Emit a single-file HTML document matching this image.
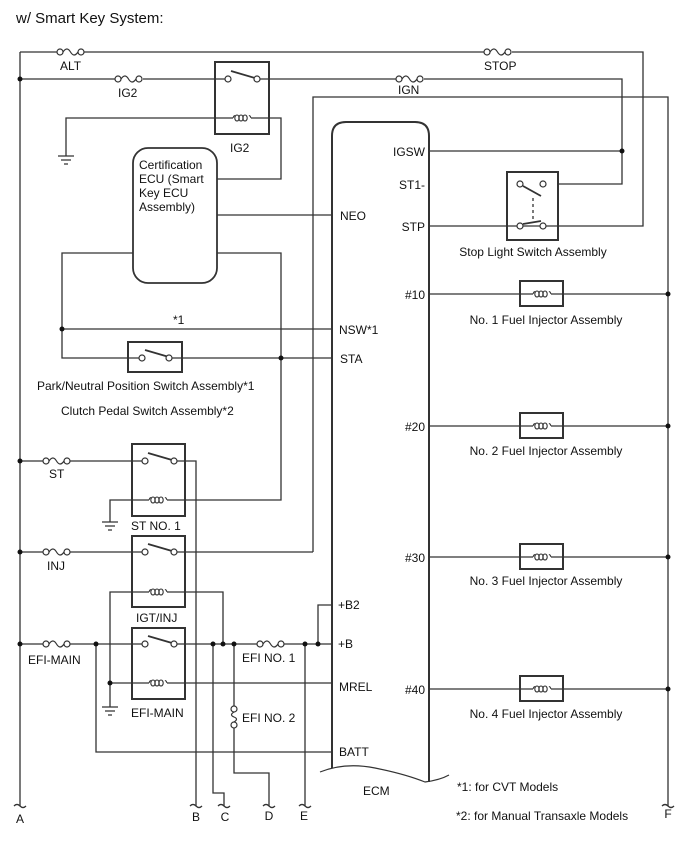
<!DOCTYPE html>
<html><head><meta charset="utf-8"><style>
html,body{margin:0;padding:0;background:#fff}
svg{display:block}
text{font-family:"Liberation Sans",Arial,sans-serif;font-size:12px;fill:#111}
</style></head><body>
<svg width="688" height="852" viewBox="0 0 688 852" xmlns="http://www.w3.org/2000/svg">
<text x="16" y="23" style="font-size:15px">w/ Smart Key System:</text>
<g fill="none" stroke="#333" stroke-width="1.3">
<path d="M20 52V806"/>
<path d="M20 52H57M84 52H484M512 52H643V226H429"/>
<path d="M20 79H115M143 79H228M257 79H396M424 79H622V184H558"/>
<path d="M429 151H622"/>
<path d="M313 552V97H668V806"/>
<path d="M66 156V118H233M251 118H281V179H217"/>
<path d="M217 215H332"/>
<path d="M133 253H62V358H142M169 358H332"/>
<path d="M217 253H281V500H167M149 500H110V522"/>
<path d="M62 329H332"/>
<path d="M20 461H43M69 461H145M174 461H196V806"/>
<path d="M20 552H43M69 552H145M174 552H313"/>
<path d="M110 707V592H149M167 592H223V644"/>
<path d="M20 644H43M69 644H145M174 644H257M283 644H332"/>
<path d="M318 644V605H332"/>
<path d="M110 683H149M167 683H332"/>
<path d="M96 644V752H332"/>
<path d="M213 644V793H224V806"/>
<path d="M234 644V706M234 728V773H269V806"/>
<path d="M305 644V806"/>
<path d="M332 768V136Q332 122 346 122H415Q429 122 429 136V782" stroke-width="2"/>
<path d="M320 772Q345 762 375 768T425 782Q440 780 449 775" stroke-width="1.2"/>
<rect x="133" y="148" width="84" height="135" rx="15" stroke-width="1.8"/>
<rect x="215" y="62" width="54" height="72" stroke-width="2"/>
<rect x="132" y="444" width="53" height="72" stroke-width="2"/>
<rect x="132" y="536" width="53" height="71" stroke-width="2"/>
<rect x="132" y="628" width="53" height="71" stroke-width="2"/>
<rect x="128" y="342" width="54" height="30" stroke-width="2"/>
<rect x="507" y="172" width="51" height="68" stroke-width="2"/>
<path d="M429 294H533M551 294H668M429 426H533M551 426H668M429 557H533M551 557H668M429 689H533M551 689H668"/>
<rect x="520" y="281" width="43" height="25" stroke-width="2"/>
<rect x="520" y="413" width="43" height="25" stroke-width="2"/>
<rect x="520" y="544" width="43" height="25" stroke-width="2"/>
<rect x="520" y="676" width="43" height="25" stroke-width="2"/>
<path d="M231 71L255 78M148 453L172 460M148 544L172 551M148 636L172 643M145 350L169 357" stroke-width="1.8"/>
<path d="M523 186L541 196M523 224L541 221" stroke-width="1.8"/>
<path d="M533 198V220" stroke-dasharray="3,3"/>
<path d="M58 156H74M61 160H71M64 164H68M102 522H118M105 526H115M108 530H112M102 707H118M105 711H115M108 715H112"/>
<path d="M14 806q3-3 6 0t6 0M190 806q3-3 6 0t6 0M218 806q3-3 6 0t6 0M263 806q3-3 6 0t6 0M299 806q3-3 6 0t6 0M662 806q3-3 6 0t6 0"/>
</g>
<g fill="#fff" stroke="#333" stroke-width="1.2">
<g id="fz"><circle cx="60" cy="52" r="3"/><circle cx="81" cy="52" r="3"/><path d="M63 52Q67 46 70.5 52T78 52" fill="none"/></g>
<use href="#fz" x="58" y="27"/>
<use href="#fz" x="427" y="0"/>
<use href="#fz" x="339" y="27"/>
<use href="#fz" x="-14" y="409"/>
<use href="#fz" x="-14" y="500"/>
<use href="#fz" x="-14" y="592"/>
<use href="#fz" x="200" y="592"/>
<circle cx="234" cy="709" r="3"/><circle cx="234" cy="725" r="3"/><path d="M234 712Q229 715 234 717T234 722" fill="none"/>
<circle cx="228" cy="79" r="3"/><circle cx="257" cy="79" r="3"/>
<circle cx="145" cy="461" r="3"/><circle cx="174" cy="461" r="3"/>
<circle cx="145" cy="552" r="3"/><circle cx="174" cy="552" r="3"/>
<circle cx="145" cy="644" r="3"/><circle cx="174" cy="644" r="3"/>
<circle cx="142" cy="358" r="3"/><circle cx="169" cy="358" r="3"/>
<circle cx="520" cy="184" r="3"/><circle cx="543" cy="184" r="3"/>
<circle cx="520" cy="226" r="3"/><circle cx="543" cy="226" r="3"/>
</g>
<g fill="none" stroke="#333" stroke-width="1.1">
<g id="cl"><ellipse cx="237" cy="118" rx="2.2" ry="3"/><ellipse cx="241" cy="118" rx="2.2" ry="3"/><ellipse cx="245" cy="118" rx="2.2" ry="3"/><path d="M233 118Q234 115 235 116M249 116Q250 115 251 118"/></g>
<use href="#cl" x="-84" y="382"/>
<use href="#cl" x="-84" y="474"/>
<use href="#cl" x="-84" y="565"/>
<use href="#cl" x="300" y="176"/>
<use href="#cl" x="300" y="308"/>
<use href="#cl" x="300" y="439"/>
<use href="#cl" x="300" y="571"/>
</g>
<g fill="#111">
<circle cx="20" cy="79" r="2.5"/><circle cx="622" cy="151" r="2.5"/>
<circle cx="62" cy="329" r="2.5"/><circle cx="281" cy="358" r="2.5"/>
<circle cx="20" cy="461" r="2.5"/><circle cx="20" cy="552" r="2.5"/><circle cx="20" cy="644" r="2.5"/>
<circle cx="96" cy="644" r="2.5"/><circle cx="110" cy="683" r="2.5"/>
<circle cx="213" cy="644" r="2.5"/><circle cx="223" cy="644" r="2.5"/><circle cx="234" cy="644" r="2.5"/>
<circle cx="305" cy="644" r="2.5"/><circle cx="318" cy="644" r="2.5"/>
<circle cx="668" cy="294" r="2.5"/><circle cx="668" cy="426" r="2.5"/><circle cx="668" cy="557" r="2.5"/><circle cx="668" cy="689" r="2.5"/>
</g>
<text x="60" y="70">ALT</text>
<text x="118" y="97">IG2</text>
<text x="230" y="152">IG2</text>
<text x="484" y="70">STOP</text>
<text x="398" y="94">IGN</text>
<text x="139" y="169">Certification</text>
<text x="139" y="183">ECU (Smart</text>
<text x="139" y="197">Key ECU</text>
<text x="139" y="211">Assembly)</text>
<text x="173" y="324">*1</text>
<text x="37" y="390">Park/Neutral Position Switch Assembly*1</text>
<text x="61" y="415">Clutch Pedal Switch Assembly*2</text>
<text x="49" y="478">ST</text>
<text x="131" y="530">ST NO. 1</text>
<text x="47" y="570">INJ</text>
<text x="136" y="622">IGT/INJ</text>
<text x="28" y="664">EFI-MAIN</text>
<text x="131" y="717">EFI-MAIN</text>
<text x="242" y="662">EFI NO. 1</text>
<text x="242" y="722">EFI NO. 2</text>
<text x="340" y="220">NEO</text>
<text x="339" y="334">NSW*1</text>
<text x="340" y="363">STA</text>
<text x="338" y="609">+B2</text>
<text x="338" y="648">+B</text>
<text x="339" y="691">MREL</text>
<text x="339" y="756">BATT</text>
<text x="363" y="795">ECM</text>
<g text-anchor="end">
<text x="425" y="156">IGSW</text>
<text x="425" y="189">ST1-</text>
<text x="425" y="231">STP</text>
<text x="425" y="299">#10</text>
<text x="425" y="431">#20</text>
<text x="425" y="562">#30</text>
<text x="425" y="694">#40</text>
</g>
<g text-anchor="middle">
<text x="533" y="256">Stop Light Switch Assembly</text>
<text x="546" y="324">No. 1 Fuel Injector Assembly</text>
<text x="546" y="455">No. 2 Fuel Injector Assembly</text>
<text x="546" y="585">No. 3 Fuel Injector Assembly</text>
<text x="546" y="718">No. 4 Fuel Injector Assembly</text>
<text x="20" y="823">A</text><text x="196" y="821">B</text><text x="225" y="821">C</text>
<text x="269" y="820">D</text><text x="304" y="820">E</text><text x="668" y="818">F</text>
</g>
<text x="457" y="791">*1: for CVT Models</text>
<text x="456" y="820">*2: for Manual Transaxle Models</text>
</svg>
</body></html>
